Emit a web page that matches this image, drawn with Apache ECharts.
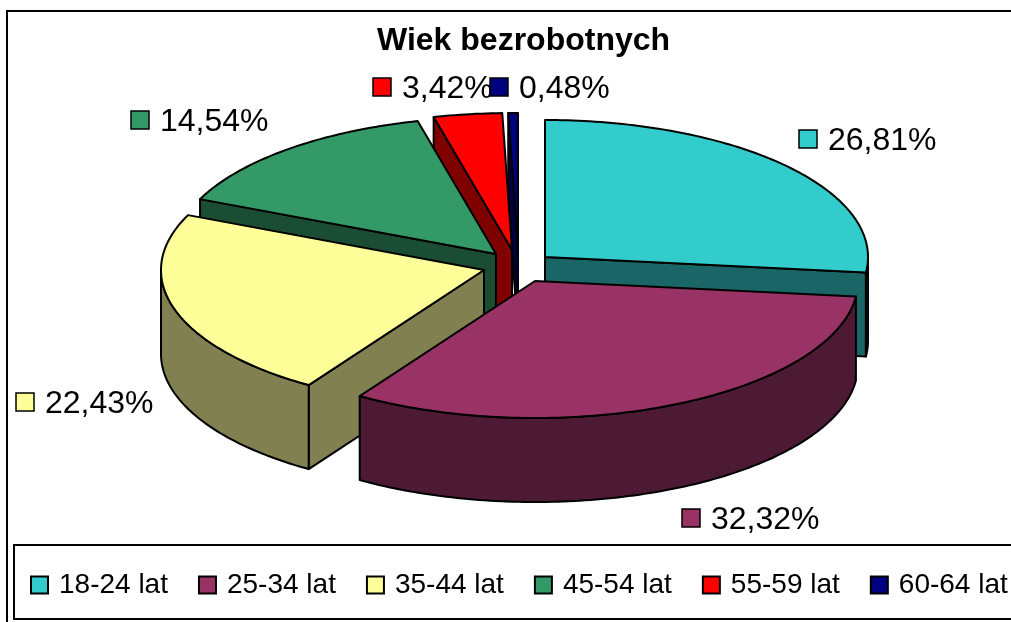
<!DOCTYPE html>
<html>
<head>
<meta charset="utf-8">
<style>
  html, body {margin: 0; padding: 0; background: #fff;}
  #chart {width: 1011px; height: 622px;}
</style>
<script src="https://cdn.jsdelivr.net/npm/echarts@6/dist/echarts.min.js"></script>
</head>
<body>
<div id="chart"></div>
<script>
const chartTitle = 'Wiek bezrobotnych'
const categories = ['18-24 lat', '25-34 lat', '35-44 lat', '45-54 lat', '55-59 lat', '60-64 lat']
const shares = [26.81, 32.32, 22.43, 14.54, 3.42, 0.48]

const topColors = ['#33CCCC', '#993366', '#FFFF99', '#339966', '#FF0000', '#000080']
const wallColors = ['#1A6666', '#4D1A33', '#808050', '#1A4D33', '#800000', '#000040']

// each exploded slice has its own apex on the page, Excel style
const apexX = [545, 535, 484, 496, 512, 518]
const apexY = [257, 281, 270, 254, 250, 250]
const radiusX = 323
const radiusY = 137
const depth = 84

// the order the slices are painted, back to front
const paintOrder = [5, 4, 0, 3, 2, 1]

const labelX = [799, 682, 16, 131, 373, 490]
const labelY = [139, 518, 402, 120, 87, 87]

const FONT = '"Liberation Sans", Arial, sans-serif'
const lineStyle = {stroke: '#000', lineWidth: 2, lineJoin: 'round'}

function edgePoint(i, deg, drop) {
  const rad = deg * Math.PI / 180
  return [
    apexX[i] + radiusX * Math.sin(rad),
    apexY[i] - radiusY * Math.cos(rad) + drop
  ]
}

function arcPoints(i, from, to, drop) {
  const points = []
  const steps = Math.max(2, Math.ceil(Math.abs(to - from)))
  for (let s = 0; s <= steps; s++) {
    points.push(edgePoint(i, from + (to - from) * s / steps, drop))
  }
  return points
}

function polygon(points, fill) {
  return {type: 'polygon', shape: {points: points}, style: {...lineStyle, fill: fill}}
}

function sliceRange(i) {
  let before = 0
  for (let k = 0; k < i; k++) before += shares[k]
  const total = shares.reduce((a, b) => a + b, 0)
  return [before / total * 360, (before + shares[i]) / total * 360]
}

function renderSlice(i) {
  const [from, to] = sliceRange(i)
  const apex = [apexX[i], apexY[i]]
  const apexLow = [apexX[i], apexY[i] + depth]
  const children = []

  // flat cut faces, only the ones turned to the viewer
  if (Math.sin(from * Math.PI / 180) < -1e-6) {
    children.push(polygon([apex, edgePoint(i, from, 0), edgePoint(i, from, depth), apexLow], wallColors[i]))
  }
  if (Math.sin(to * Math.PI / 180) > 1e-6) {
    children.push(polygon([apex, edgePoint(i, to, 0), edgePoint(i, to, depth), apexLow], wallColors[i]))
  }

  // rim on the front half
  const rimFrom = Math.max(from, 90)
  const rimTo = Math.min(to, 270)
  if (rimTo > rimFrom) {
    const rim = arcPoints(i, rimFrom, rimTo, 0).concat(arcPoints(i, rimTo, rimFrom, depth))
    children.push(polygon(rim, wallColors[i]))
  }

  children.push(polygon([apex].concat(arcPoints(i, from, to, 0)), topColors[i]))
  return {type: 'group', children: children}
}

function renderLabel(params, api) {
  const i = params.dataIndex
  const text = api.value(0).toFixed(2).replace('.', ',') + '%'
  return {
    type: 'group',
    children: [
      {
        type: 'rect',
        shape: {x: labelX[i], y: labelY[i] - 9, width: 18, height: 18},
        style: {fill: topColors[i], stroke: '#000', lineWidth: 1.5}
      },
      {
        type: 'text',
        style: {
          x: labelX[i] + 29,
          y: labelY[i] + 2,
          text: text,
          fill: '#000',
          font: '32px ' + FONT,
          textVerticalAlign: 'middle'
        }
      }
    ]
  }
}

const series = paintOrder.map((i, order) => ({
  type: 'custom',
  name: categories[i],
  coordinateSystem: 'none',
  silent: true,
  z: 2 + order,
  itemStyle: {color: topColors[i], borderColor: '#000', borderWidth: 1.5},
  data: [[shares[i]]],
  renderItem: () => renderSlice(i)
}))

series.push({
  type: 'custom',
  name: 'etykiety',
  coordinateSystem: 'none',
  silent: true,
  z: 20,
  data: shares.map(v => [v]),
  renderItem: renderLabel
})

const chart = echarts.init(document.getElementById('chart'))
chart.setOption({
  animation: false,
  backgroundColor: '#fff',
  title: {
    text: chartTitle,
    left: 377,
    top: 25,
    padding: 0,
    textStyle: {fontFamily: FONT, fontSize: 32, fontWeight: 'bold', color: '#000'}
  },
  legend: {
    data: categories,
    left: 30,
    top: 571,
    width: 1200,
    padding: 0,
    itemWidth: 17,
    itemHeight: 17,
    itemGap: 30,
    icon: 'rect',
    selectedMode: false,
    textStyle: {fontFamily: FONT, fontSize: 28, color: '#000', padding: [0, 0, 0, 6]}
  },
  graphic: [
    {
      type: 'rect',
      z: 0,
      shape: {x: 7, y: 11, width: 1100, height: 700},
      style: {fill: '#fff', stroke: '#000', lineWidth: 2}
    },
    {
      type: 'rect',
      z: 1,
      shape: {x: 14, y: 545, width: 1100, height: 74},
      style: {fill: '#fff', stroke: '#000', lineWidth: 2}
    }
  ],
  series: series
})
</script>
</body>
</html>
